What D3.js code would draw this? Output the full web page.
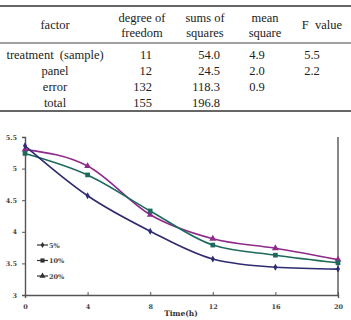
<!DOCTYPE html>
<html>
<head>
<meta charset="utf-8">
<script src="https://cdn.jsdelivr.net/npm/d3@7"></script>
<style>
  body { margin: 0; background: #fff; }
  svg { display: block; }
</style>
</head>
<body>
<div id="chart"></div>
<script>
// ---------- table data ----------
var tableHeaders = [["factor"], ["degree of", "freedom"], ["sums of", "squares"], ["mean", "square"], ["F  value"]];
var factors = ["treatment  (sample)", "panel", "error", "total"];
var degrees = ["11", "12", "132", "155"];
var sums = ["54.0", "24.5", "118.3", "196.8"];
var means = ["4.9", "2.0", "0.9", ""];
var fValues = ["5.5", "2.2", "", ""];

// ---------- line chart data ----------
var hours = [0, 4, 8, 12, 16, 20];
var seriesNames = ["5%", "10%", "20%"];
var pct5 = [5.36, 4.57, 4.01, 3.57, 3.44, 3.41];
var pct10 = [5.24, 4.90, 4.33, 3.79, 3.63, 3.51];
var pct20 = [5.30, 5.04, 4.27, 3.89, 3.74, 3.56];
var yTicks = [3, 3.5, 4, 4.5, 5, 5.5];

var svgWidth = 351, svgHeight = 320;
var svg = d3.select("#chart").append("svg").attr("width", svgWidth).attr("height", svgHeight);

// ================= TABLE =================
var tbl = svg.append("g").attr("font-family", "Liberation Serif, Times New Roman, serif")
  .attr("font-size", 12.5).attr("fill", "#222");

tbl.append("line").attr("x1", 0).attr("x2", 351).attr("y1", 6).attr("y2", 6).attr("stroke", "#333").attr("stroke-width", 1.5);
tbl.append("line").attr("x1", 0).attr("x2", 351).attr("y1", 43).attr("y2", 43).attr("stroke", "#444").attr("stroke-width", 1.2);
tbl.append("line").attr("x1", 0).attr("x2", 351).attr("y1", 111).attr("y2", 111).attr("stroke", "#333").attr("stroke-width", 1.5);

var headerX = [55, 142, 205, 265, 322];
tableHeaders.forEach(function (lines, i) {
  var y0 = lines.length == 1 ? 29 : 22;
  lines.forEach(function (t, j) {
    tbl.append("text").attr("x", headerX[i]).attr("y", y0 + j * 15)
      .attr("text-anchor", "middle").attr("xml:space", "preserve").text(t);
  });
});

var rowY = d3.scaleBand().domain(d3.range(factors.length)).range([47, 110]);
var cols = [
  { vals: factors, x: 55, anchor: "middle" },
  { vals: degrees, x: 152, anchor: "end" },
  { vals: sums, x: 220, anchor: "end" },
  { vals: means, x: 257, anchor: "middle" },
  { vals: fValues, x: 312, anchor: "middle" }
];
cols.forEach(function (c) {
  tbl.selectAll(null).data(c.vals).enter().append("text")
    .attr("x", c.x)
    .attr("y", function (d, i) { return rowY(i) + rowY.bandwidth() / 2 + 4.5; })
    .attr("text-anchor", c.anchor)
    .attr("xml:space", "preserve")
    .text(function (d) { return d; });
});

// ================= LINE CHART =================
var x = d3.scaleLinear().domain([0, 20]).range([25, 338]);
var y = d3.scaleLinear().domain([3, 5.5]).range([295, 137]);
var axisColor = "#555";
var tickFont = "DejaVu Serif, Georgia, serif";

var chart = svg.append("g");

var yAxis = chart.append("g").attr("transform", "translate(25,0)")
  .call(d3.axisLeft(y).tickValues(yTicks).tickSize(3).tickPadding(5)
    .tickFormat(function (d) { return d % 1 ? d3.format(".1f")(d) : d; }));
var xAxis = chart.append("g").attr("transform", "translate(0,295)")
  .call(d3.axisBottom(x).tickValues(hours).tickSize(3).tickPadding(6));
[yAxis, xAxis].forEach(function (a) {
  a.select(".domain").attr("stroke", axisColor).attr("stroke-width", 1.4);
  a.selectAll(".tick line").attr("stroke", axisColor);
  a.selectAll(".tick text").attr("font-family", tickFont).attr("font-size", 6.5)
    .attr("font-weight", "bold").attr("fill", "#444");
});
xAxis.selectAll(".tick line").attr("y2", 0).attr("y1", -3);

// right border line
chart.append("line").attr("x1", x(20)).attr("x2", x(20)).attr("y1", y(5.5)).attr("y2", y(3))
  .attr("stroke", axisColor).attr("stroke-width", 1.4);

chart.append("text").attr("x", 181).attr("y", 316).attr("text-anchor", "middle")
  .attr("font-family", tickFont).attr("font-size", 7.5).attr("font-weight", "bold").attr("fill", "#333")
  .text("Time(h)");

var series = [
  { name: seriesNames[0], vals: pct5, color: "#2e2b70", symbol: d3.symbolDiamond, size: 14 },
  { name: seriesNames[1], vals: pct10, color: "#1d6a5c", symbol: d3.symbolSquare, size: 22 },
  { name: seriesNames[2], vals: pct20, color: "#8e2a8c", symbol: d3.symbolTriangle, size: 20 }
];

var line = d3.line().x(function (d) { return x(d[0]); }).y(function (d) { return y(d[1]); })
  .curve(d3.curveMonotoneX);

series.slice().reverse().forEach(function (s) {
  var pts = hours.map(function (h, i) { return [h, s.vals[i]]; });
  chart.append("path").attr("d", line(pts)).attr("fill", "none")
    .attr("stroke", s.color).attr("stroke-width", 1.6);
  chart.selectAll(null).data(pts).enter().append("path")
    .attr("transform", function (d) { return "translate(" + x(d[0]) + "," + y(d[1]) + ")"; })
    .attr("d", d3.symbol().type(s.symbol).size(s.size))
    .attr("fill", s.color);
});

// legend
var legend = chart.append("g");
series.forEach(function (s, i) {
  var ly = 245 + i * 15.5;
  legend.append("line").attr("x1", 37).attr("x2", 48).attr("y1", ly).attr("y2", ly)
    .attr("stroke", "#333").attr("stroke-width", 1.2);
  legend.append("path").attr("transform", "translate(42.5," + ly + ")")
    .attr("d", d3.symbol().type(s.symbol).size(s.size * 0.8)).attr("fill", "#333");
  legend.append("text").attr("x", 49).attr("y", ly + 2.5)
    .attr("font-family", tickFont).attr("font-size", 6.5).attr("font-weight", "bold").attr("fill", "#444")
    .text(s.name);
});
</script>
</body>
</html>
